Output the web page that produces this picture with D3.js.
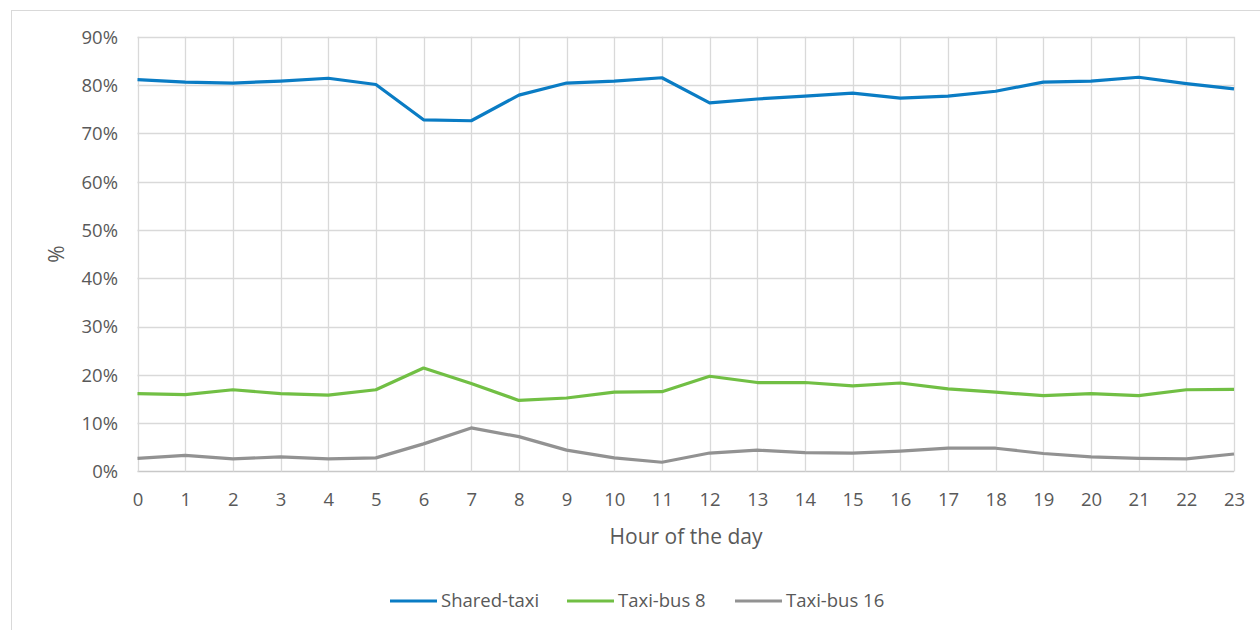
<!DOCTYPE html>
<html>
<head>
<meta charset="utf-8">
<script src="https://cdn.jsdelivr.net/npm/d3@7"></script>
<style>
  html, body { margin: 0; padding: 0; background: #fff; }
  svg { display: block; }
  text { font-family: "Open Sans", "Liberation Sans", sans-serif; fill: #595959; }
</style>
</head>
<body>
<svg id="chart" width="1260" height="630"></svg>
<script>
// Hourly modal share of trips (%)
const hours = d3.range(0, 24);
const sharedTaxi = [81.1, 80.6, 80.4, 80.8, 81.4, 80.1, 72.8, 72.6, 77.9, 80.4, 80.8, 81.5,
                    76.3, 77.1, 77.7, 78.3, 77.3, 77.7, 78.7, 80.6, 80.8, 81.6, 80.3, 79.2];
const taxiBus8 = [16.1, 15.9, 16.9, 16.1, 15.8, 16.9, 21.4, 18.2, 14.7, 15.2, 16.4, 16.5,
                  19.7, 18.4, 18.4, 17.7, 18.3, 17.1, 16.4, 15.7, 16.1, 15.7, 16.9, 17.0];
const taxiBus16 = [2.7, 3.3, 2.6, 3.0, 2.6, 2.8, 5.7, 9.0, 7.2, 4.4, 2.8, 1.9,
                   3.8, 4.4, 3.9, 3.8, 4.2, 4.8, 4.8, 3.7, 3.0, 2.7, 2.6, 3.6];
const yTicks = [0, 10, 20, 30, 40, 50, 60, 70, 80, 90];
const seriesNames = ["Shared-taxi", "Taxi-bus 8", "Taxi-bus 16"];
const seriesColors = ["#0a7cc4", "#71bf44", "#929292"];
const xTitle = "Hour of the day";
const yTitle = "%";

const series = [sharedTaxi, taxiBus8, taxiBus16].map((vals, i) => ({
  name: seriesNames[i], color: seriesColors[i], values: vals
}));

const svg = d3.select("#chart");

// outer chart frame
svg.append("rect")
  .attr("x", 11.5).attr("y", 10.5)
  .attr("width", 1300).attr("height", 700)
  .attr("fill", "none").attr("stroke", "#d9d9d9").attr("stroke-width", 1);

const x = d3.scaleLinear().domain([0, 23]).range([137.5, 1234]);
const y = d3.scaleLinear().domain([0, 90]).range([471.4, 36.7]);

const g = svg.append("g");

// horizontal gridlines
g.selectAll(".hgrid").data(yTicks).join("line")
  .attr("x1", x(0)).attr("x2", x(23))
  .attr("y1", d => Math.round(y(d)) + 0.5).attr("y2", d => Math.round(y(d)) + 0.5)
  .attr("stroke", d => d === 0 ? "#c8c8c8" : "#d9d9d9").attr("stroke-width", 1.3);

// vertical gridlines
g.selectAll(".vgrid").data(hours).join("line")
  .attr("x1", d => Math.round(x(d)) + 0.5).attr("x2", d => Math.round(x(d)) + 0.5)
  .attr("y1", y(90)).attr("y2", y(0))
  .attr("stroke", "#d9d9d9").attr("stroke-width", 1.3);

// y axis labels
const yAxis = d3.axisLeft(y).tickValues(yTicks).tickFormat(d => d + "%").tickSize(0).tickPadding(0);
g.append("g").attr("transform", "translate(118,0)").call(yAxis)
  .call(s => s.select(".domain").remove())
  .selectAll("text")
  .attr("font-size", 18.5).attr("dy", "0.35em")
  .style("font-family", "'Open Sans', sans-serif").attr("fill", "#595959");

// x axis labels
const xAxis = d3.axisBottom(x).tickValues(hours).tickFormat(d3.format("d")).tickSize(0).tickPadding(0);
g.append("g").attr("transform", "translate(0,500)").call(xAxis)
  .call(s => s.select(".domain").remove())
  .selectAll("text")
  .attr("y", 0)
  .attr("font-size", 18.5).attr("dy", "0.35em")
  .style("font-family", "'Open Sans', sans-serif").attr("fill", "#595959");

// axis titles
svg.append("text").attr("x", 686).attr("y", 537).attr("dy", "0.35em")
  .attr("text-anchor", "middle").attr("font-size", 21).text(xTitle);
svg.append("text")
  .attr("transform", "translate(57,254) rotate(-90)")
  .attr("text-anchor", "middle").attr("dy", "0.35em").attr("font-size", 21).text(yTitle);

// series lines
const line = d3.line().x((d, i) => x(hours[i])).y(d => y(d));
g.selectAll(".series").data(series).join("path")
  .attr("d", d => line(d.values))
  .attr("fill", "none")
  .attr("stroke", d => d.color)
  .attr("stroke-width", 3.2)
  .attr("stroke-linejoin", "round")
  .attr("stroke-linecap", "butt");

// legend
const legendX = [390, 567, 735];
const legend = svg.append("g").selectAll("g").data(series).join("g")
  .attr("transform", (d, i) => `translate(${legendX[i]},601)`);
legend.append("line")
  .attr("x1", 0).attr("x2", 47).attr("y1", 0).attr("y2", 0)
  .attr("stroke", d => d.color).attr("stroke-width", 3.2);
legend.append("text")
  .attr("x", 51).attr("y", 0).attr("dy", "0.35em")
  .attr("font-size", 18.5).text(d => d.name);
</script>
</body>
</html>
